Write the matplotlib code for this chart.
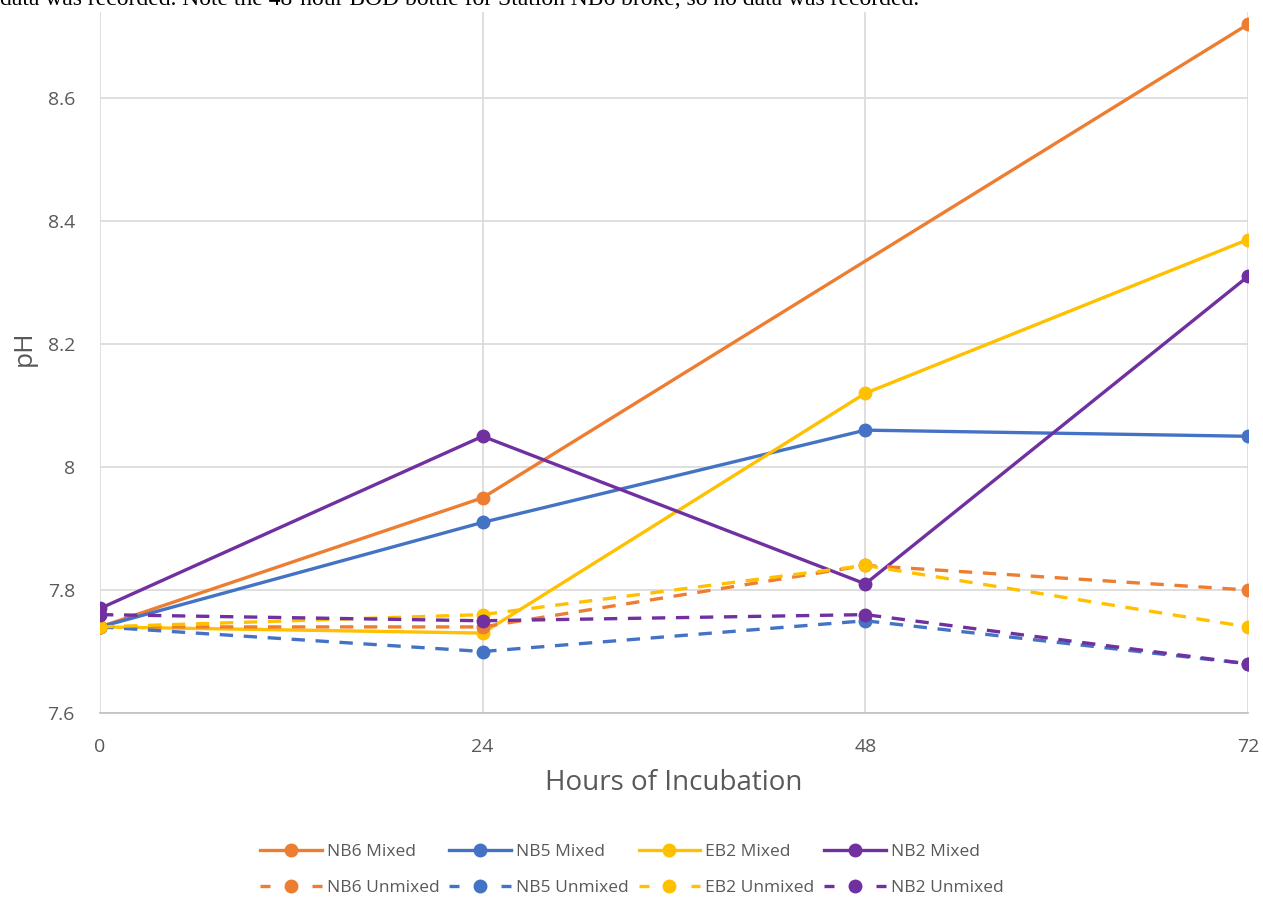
import matplotlib
matplotlib.use("Agg")
import matplotlib.pyplot as plt
from matplotlib.lines import Line2D
import numpy as np

hours = [0, 24, 48, 72]
nb6_mixed = [7.74, 7.95, np.nan, 8.72]
nb5_mixed = [7.74, 7.91, 8.06, 8.05]
eb2_mixed = [7.74, 7.73, 8.12, 8.37]
nb2_mixed = [7.77, 8.05, 7.81, 8.31]
nb6_unmixed = [7.74, 7.74, 7.84, 7.80]
nb5_unmixed = [7.74, 7.70, 7.75, 7.68]
eb2_unmixed = [7.74, 7.76, 7.84, 7.74]
nb2_unmixed = [7.76, 7.75, 7.76, 7.68]

series = [
    ("NB6 Mixed", nb6_mixed, "#ED7D31", "-"),
    ("NB5 Mixed", nb5_mixed, "#4472C4", "-"),
    ("EB2 Mixed", eb2_mixed, "#FFC000", "-"),
    ("NB2 Mixed", nb2_mixed, "#7030A0", "-"),
    ("NB6 Unmixed", nb6_unmixed, "#ED7D31", "--"),
    ("NB5 Unmixed", nb5_unmixed, "#4472C4", "--"),
    ("EB2 Unmixed", eb2_unmixed, "#FFC000", "--"),
    ("NB2 Unmixed", nb2_unmixed, "#7030A0", "--"),
]

W, H = 1263, 899
fig = plt.figure(figsize=(W / 100, H / 100), dpi=100)
ax = fig.add_axes([100 / W, 1 - 713 / H, (1248 - 100) / W, (713 - 12) / H])

handles = []
for name, vals, col, ls in series:
    x = np.array(hours, dtype=float)
    y = np.array(vals, dtype=float)
    m = ~np.isnan(y)
    kw = dict(color=col, lw=2.4, marker="o", ms=9, zorder=3)
    if ls == "--":
        kw["dashes"] = (4, 3.2)
    ax.plot(x[m], y[m], **kw)
    hk = dict(color=col, lw=2.4, marker="o", ms=9)
    if ls == "--":
        hk["dashes"] = (3, 12.6)
    handles.append(Line2D([], [], label=name, **hk))

ax.set_xlim(0, 72)
ax.set_ylim(7.6, 8.74)
ax.set_xticks(hours)
ax.set_yticks([7.6, 7.8, 8.0, 8.2, 8.4, 8.6])
ax.set_yticklabels(["7.6", "7.8", "8", "8.2", "8.4", "8.6"])
ax.grid(True, color="#d9d9d9", lw=1.2, zorder=0)
ax.set_axisbelow(True)
for s in ["top", "right", "left"]:
    ax.spines[s].set_visible(False)
ax.spines["bottom"].set_color("#bfbfbf")
ax.spines["bottom"].set_linewidth(1.2)
ax.tick_params(length=0, labelsize=14, labelcolor="#595959")
ax.tick_params(axis="x", pad=18)
ax.tick_params(axis="y", pad=18)
for lab in ax.get_xticklabels() + ax.get_yticklabels():
    lab.set_family("Open Sans")

ax.set_xlabel("Hours of Incubation", fontsize=20, color="#595959", family="Open Sans", labelpad=9)
ax.set_ylabel("pH", fontsize=19, color="#595959", family="Open Sans")
ax.yaxis.set_label_coords(-0.055, 0.52)

# Legend: row-major order (matplotlib fills column-wise)
order = [0, 4, 1, 5, 2, 6, 3, 7]
fig.legend(handles=[handles[i] for i in order], loc="center",
           bbox_to_anchor=(632 / W, 1 - 870 / H), ncol=4,
           frameon=False, prop={"family": "Open Sans", "size": 12.5}, labelcolor="#595959",
           handlelength=3.55, handletextpad=0.3, columnspacing=0.55, labelspacing=1.15)

fig.text(0.0, 1 - 5 / H,
         "data was recorded. Note the 48-hour BOD bottle for Station NB6 broke, so no data was recorded.",
         family="Liberation Serif", fontsize=17, va="baseline", ha="left", color="black")

fig.savefig("out.png", dpi=100, facecolor="white")
